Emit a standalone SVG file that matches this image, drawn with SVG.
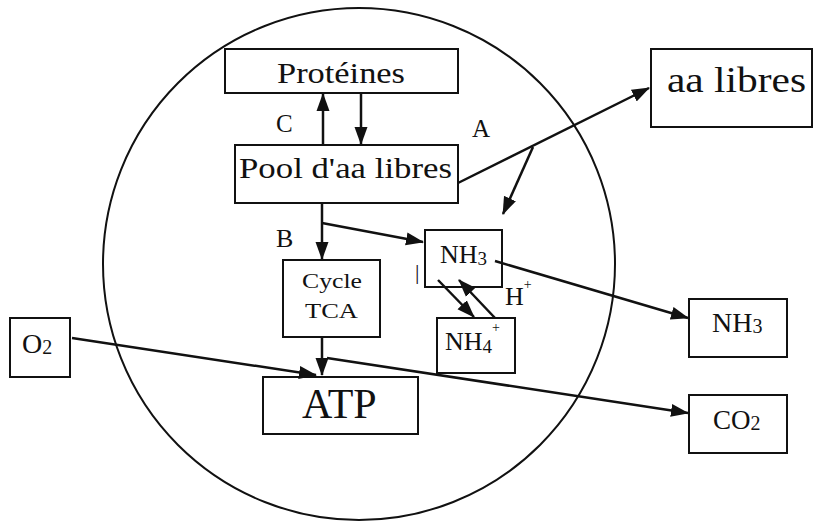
<svg xmlns="http://www.w3.org/2000/svg" width="822" height="522" viewBox="0 0 822 522">
<style>
.box{fill:none;stroke:#111;stroke-width:2}
.t{fill:#111}
.c{fill:none;stroke:#111;stroke-width:2.5}
.a{marker-end:url(#ah)}
</style>
<defs>
<marker id="ah" markerUnits="userSpaceOnUse" markerWidth="20" markerHeight="14" refX="17" refY="7" orient="auto">
<path d="M0,0.5 L18,7 L0,13.5 z" fill="#111"/>
</marker>
</defs>
<rect width="822" height="522" fill="#fff"/>
<circle id="cell" cx="359" cy="264" r="256" fill="none" stroke="#111" stroke-width="2"/>
<g id="connectors">
<line class="c a" x1="323" y1="145" x2="323" y2="94"/>
<line class="c a" x1="361" y1="93" x2="361" y2="144"/>
<line class="c a" x1="458" y1="183" x2="649" y2="88"/>
<line class="c a" x1="533" y1="147" x2="503" y2="214"/>
<line class="c a" x1="322" y1="203" x2="322" y2="259"/>
<line class="c a" x1="322" y1="223" x2="423" y2="242"/>
<line class="c a" x1="438" y1="280" x2="474" y2="317"/>
<line class="c a" x1="495" y1="318" x2="459" y2="280"/>
<line class="c a" x1="322" y1="337" x2="322" y2="375"/>
<line class="c a" x1="72" y1="338" x2="316" y2="375"/>
<line class="c a" x1="327" y1="358" x2="688" y2="413"/>
<line class="c a" x1="495" y1="261" x2="688" y2="318"/>
</g>
<g font-family="'Liberation Serif', 'Times New Roman', Times, serif">
<g id="proteines">
<rect class="box" x="225" y="49" width="233" height="44"/>
<text class="t" x="277" y="83" font-size="30" textLength="128" lengthAdjust="spacingAndGlyphs">Protéines</text>
</g>
<g id="pool">
<rect class="box" x="235" y="145" width="223" height="58"/>
<text class="t" x="239" y="178" font-size="30" textLength="213" lengthAdjust="spacingAndGlyphs">Pool d'aa libres</text>
</g>
<g id="aa-libres">
<rect class="box" x="651" y="49" width="161" height="78"/>
<text class="t" x="667" y="92" font-size="35" textLength="139" lengthAdjust="spacingAndGlyphs">aa libres</text>
</g>
<g id="cycle-tca">
<rect class="box" x="283" y="260" width="97" height="77"/>
<text class="t" x="302" y="288" font-size="22" textLength="60" lengthAdjust="spacingAndGlyphs">Cycle</text>
<text class="t" x="305" y="318" font-size="22" textLength="53" lengthAdjust="spacingAndGlyphs">TCA</text>
</g>
<g id="nh3-in">
<rect class="box" x="425" y="230" width="77" height="57"/>
<text class="t" x="440" y="263" font-size="26">NH<tspan font-size="19" dy="2">3</tspan></text>
</g>
<g id="nh4">
<rect class="box" x="437" y="318" width="78" height="55"/>
<text class="t" x="445" y="350" font-size="26">NH<tspan font-size="19" dy="3">4</tspan><tspan font-size="14" dy="-21">+</tspan></text>
</g>
<g id="atp">
<rect class="box" x="263" y="377" width="155" height="57"/>
<text class="t" x="302" y="418" font-size="42">ATP</text>
</g>
<g id="o2">
<rect class="box" x="10" y="318" width="60" height="59"/>
<text class="t" x="22" y="353" font-size="28">O<tspan font-size="20" dy="1">2</tspan></text>
</g>
<g id="nh3-out">
<rect class="box" x="689" y="299" width="98" height="58"/>
<text class="t" x="712" y="332" font-size="28">NH<tspan font-size="20" dy="1">3</tspan></text>
</g>
<g id="co2">
<rect class="box" x="689" y="395" width="98" height="58"/>
<text class="t" x="713" y="429" font-size="27">CO<tspan font-size="20" dy="1">2</tspan></text>
</g>
<g id="labels">
<text class="t" x="276" y="132" font-size="25">C</text>
<text class="t" x="472" y="137" font-size="25">A</text>
<text class="t" x="276" y="247" font-size="26">B</text>
<text class="t" x="505" y="305" font-size="26">H<tspan font-size="14" dy="-16">+</tspan></text>
<text class="t" x="415" y="279" font-size="22">|</text>
</g>
</g>
</svg>
